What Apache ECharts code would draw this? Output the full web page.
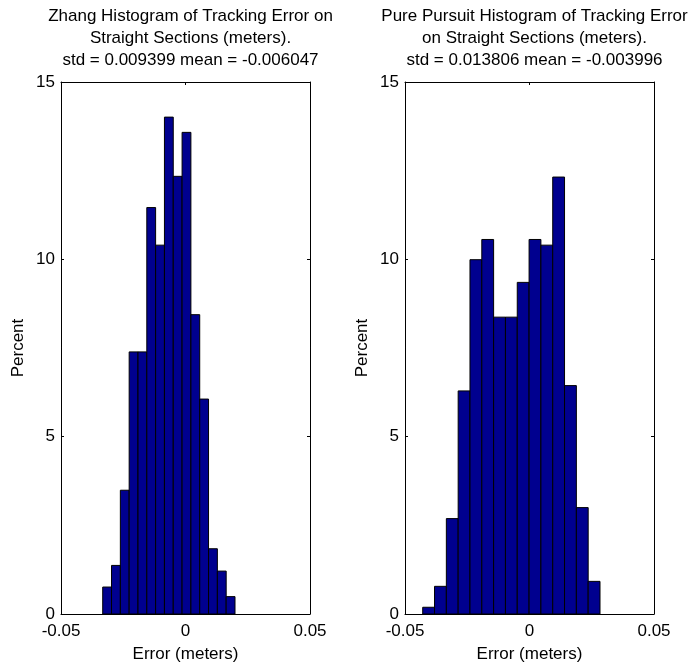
<!DOCTYPE html>
<html>
<head>
<meta charset="utf-8">
<script src="https://cdn.jsdelivr.net/npm/echarts@6/dist/echarts.min.js"></script>
<style>
html,body{margin:0;padding:0;background:#fff;}
#chart{width:691px;height:664px;}
</style>
</head>
<body>
<div id="chart"></div>
<script>
// ---- data ----
const titles = [
  'Zhang Histogram of Tracking Error on\nStraight Sections (meters).\nstd = 0.009399 mean = -0.006047',
  'Pure Pursuit Histogram of Tracking Error\non Straight Sections (meters).\nstd = 0.013806 mean = -0.003996'
];
const xTicks = [-0.05, 0, 0.05];
const yTicks = [0, 5, 10, 15];
const xLabel = 'Error (meters)';
const yLabel = 'Percent';

const zhangBinStart = -0.03325;
const zhangBinWidth = 0.003542;
const zhangPercent = [0.76, 1.37, 3.49, 7.39, 7.39, 11.46, 10.40, 14.01, 12.34, 13.58, 8.44, 6.06, 1.84, 1.21, 0.49];

const ppBinStart = -0.04289;
const ppBinWidth = 0.004747;
const ppPercent = [0.19, 0.78, 2.69, 6.29, 9.99, 10.56, 8.37, 8.37, 9.35, 10.56, 10.40, 12.32, 6.44, 3.00, 0.92];

function bins(start, width, vals) {
  return vals.map((v, i) => [start + i * width, start + (i + 1) * width, v]);
}

const FONT = 'Liberation Sans, Arial, Helvetica, sans-serif';
const FS = 17;
const grids = [
  {left: 61, top: 82, width: 249, height: 532, outerBoundsMode: 'none', containLabel: false},
  {left: 405, top: 82, width: 249, height: 532, outerBoundsMode: 'none', containLabel: false}
];

const xAxes = [], yAxes = [], series = [];
const datasets = [bins(zhangBinStart, zhangBinWidth, zhangPercent), bins(ppBinStart, ppBinWidth, ppPercent)];

grids.forEach((g, gi) => {
  const common = {
    gridIndex: gi, type: 'value',
    axisLine: {show: true, onZero: false, lineStyle: {color: '#000', width: 1}},
    axisTick: {show: true, inside: true, length: 3, lineStyle: {color: '#000'}},
    splitLine: {show: false}
  };
  xAxes.push(Object.assign({}, common, {
    position: 'bottom', min: xTicks[0], max: xTicks[xTicks.length - 1], interval: xTicks[1] - xTicks[0],
    name: xLabel, nameLocation: 'middle', nameGap: 32,
    nameTextStyle: {fontFamily: FONT, fontSize: FS, color: '#000'},
    axisLabel: {fontFamily: FONT, fontSize: FS, color: '#000', margin: 9,
      formatter: v => (Math.abs(v) < 1e-12 ? '0' : String(+v.toFixed(2)))}
  }));
  xAxes.push(Object.assign({}, common, {
    position: 'top', min: xTicks[0], max: xTicks[xTicks.length - 1], interval: xTicks[1] - xTicks[0],
    axisLabel: {show: false}
  }));
  yAxes.push(Object.assign({}, common, {
    position: 'left', min: yTicks[0], max: yTicks[yTicks.length - 1], interval: yTicks[1] - yTicks[0],
    name: yLabel, nameLocation: 'middle', nameGap: 34,
    nameTextStyle: {fontFamily: FONT, fontSize: FS, color: '#000'},
    axisLabel: {fontFamily: FONT, fontSize: FS, color: '#000', margin: 6}
  }));
  yAxes.push(Object.assign({}, common, {
    position: 'right', min: yTicks[0], max: yTicks[yTicks.length - 1], interval: yTicks[1] - yTicks[0],
    axisLabel: {show: false}
  }));
  series.push({
    type: 'custom',
    xAxisIndex: gi * 2, yAxisIndex: gi * 2,
    data: datasets[gi],
    renderItem: function (params, api) {
      const p0 = api.coord([api.value(0), api.value(2)]);
      const p1 = api.coord([api.value(1), 0]);
      return {
        type: 'rect',
        shape: {x: p0[0], y: p0[1], width: p1[0] - p0[0], height: p1[1] - p0[1]},
        style: {fill: '#00008F', stroke: '#000', lineWidth: 1}
      };
    },
    silent: true
  });
});

const chart = echarts.init(document.getElementById('chart'), null, {renderer: 'canvas'});
chart.setOption({
  backgroundColor: '#fff',
  animation: false,
  title: titles.map((t, i) => ({
    text: t,
    left: grids[i].left + grids[i].width / 2,
    textAlign: 'center',
    top: 0,
    textStyle: {fontFamily: FONT, fontSize: FS, fontWeight: 'normal', color: '#000', lineHeight: 22}
  })),
  grid: grids,
  xAxis: xAxes,
  yAxis: yAxes,
  series: series
});
</script>
</body>
</html>
